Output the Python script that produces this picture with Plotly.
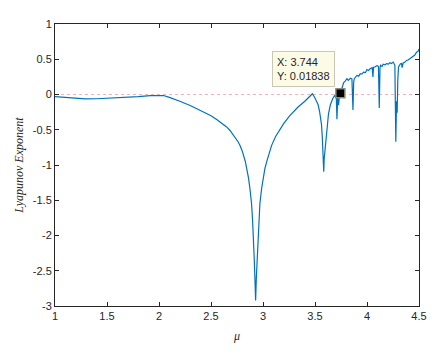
import plotly.graph_objects as go

mu = [1.00, 1.10, 1.20, 1.29, 1.40, 1.50, 1.60, 1.70, 1.80, 1.916, 2.00, 2.043, 2.10, 2.17,
      2.20, 2.30, 2.35, 2.427, 2.50, 2.555, 2.60, 2.65, 2.683, 2.72, 2.76, 2.778, 2.80,
      2.83, 2.843, 2.86, 2.874, 2.89, 2.900, 2.91, 2.916, 2.922, 2.929, 2.936, 2.944,
      2.95, 2.960, 2.97, 2.987, 3.00, 3.018, 3.04, 3.06, 3.082, 3.12, 3.162, 3.20, 3.258,
      3.30, 3.337, 3.40, 3.475, 3.50, 3.53, 3.545, 3.562, 3.57, 3.577, 3.58, 3.584, 3.588,
      3.597, 3.605, 3.616, 3.63, 3.648, 3.67, 3.69, 3.705, 3.711, 3.718, 3.727, 3.735,
      3.744, 3.755, 3.776, 3.79, 3.807, 3.82, 3.84, 3.855, 3.865, 3.872, 3.878, 3.903,
      3.92, 3.935, 3.95, 3.967, 3.985, 3.999, 4.015, 4.03, 4.05, 4.057, 4.063, 4.075,
      4.095, 4.11, 4.118, 4.125, 4.13, 4.145, 4.156, 4.17, 4.188, 4.205, 4.22, 4.235,
      4.252, 4.268, 4.277, 4.284, 4.29, 4.296, 4.303, 4.322, 4.332, 4.338, 4.348, 4.365,
      4.38, 4.395, 4.411, 4.425, 4.444, 4.46, 4.476, 4.49, 4.50]
lyap = [-0.03, -0.045, -0.057, -0.063, -0.06, -0.055, -0.05, -0.042, -0.03, -0.016, -0.01,
        -0.014, -0.04, -0.076, -0.095, -0.155, -0.19, -0.247, -0.30, -0.354, -0.40, -0.46,
        -0.51, -0.58, -0.67, -0.72, -0.80, -0.95, -1.04, -1.18, -1.33, -1.55, -1.79, -2.05,
        -2.34, -2.6, -2.92, -2.6, -2.34, -2.05, -1.79, -1.55, -1.33, -1.18, -1.05, -0.93,
        -0.82, -0.725, -0.6, -0.49, -0.41, -0.30, -0.235, -0.178, -0.10, 0.01, -0.05,
        -0.146, -0.25, -0.42, -0.6, -0.79, -0.92, -1.095, -0.92, -0.79, -0.6, -0.42, -0.27,
        -0.146, -0.06, -0.012, -0.05, -0.35, -0.05, -0.15, 0.0, 0.01838, 0.08, 0.17, 0.19,
        0.225, 0.2, 0.23, 0.22, -0.22, 0.18, 0.225, 0.27, 0.26, 0.295, 0.29, 0.317, 0.31,
        0.354, 0.34, 0.364, 0.38, 0.25, 0.386, 0.39, 0.41, 0.40, -0.19, 0.38, 0.414, 0.40,
        0.43, 0.42, 0.437, 0.43, 0.45, 0.44, 0.46, 0.414, -0.67, -0.095, -0.257, 0.2, 0.39,
        0.437, 0.44, 0.38, 0.447, 0.46, 0.483, 0.49, 0.507, 0.52, 0.553, 0.56, 0.6, 0.61,
        0.646]

tip_x = [3.744]
tip_y = [0.01838]

x_ticks = [1, 1.5, 2, 2.5, 3, 3.5, 4, 4.5]
x_labels = ["1", "1.5", "2", "2.5", "3", "3.5", "4", "4.5"]
y_ticks = [-3, -2.5, -2, -1.5, -1, -0.5, 0, 0.5, 1]
y_labels = ["-3", "-2.5", "-2", "-1.5", "-1", "-0.5", "0", "0.5", "1"]

axis_col = "#262626"

fig = go.Figure()
fig.add_trace(go.Scatter(x=[1, 4.5], y=[0, 0], mode="lines",
                         line=dict(color="#f4a0a0", width=0.8, dash="dot"),
                         hoverinfo="skip", showlegend=False))
fig.add_trace(go.Scatter(x=mu, y=lyap, mode="lines",
                         line=dict(color="#0072BD", width=1.2),
                         showlegend=False))
fig.add_trace(go.Scatter(x=tip_x, y=tip_y, mode="markers",
                         marker=dict(symbol="square", size=9, color="black",
                                     line=dict(color="#8c8c6e", width=1.5)),
                         showlegend=False))

fig.add_annotation(x=3.689, y=0.108, xref="x", yref="y", xanchor="right", yanchor="bottom",
                   text="X: 3.744<br>Y: 0.01838", showarrow=False, align="left",
                   font=dict(family="Liberation Sans, Arial", size=11, color=axis_col),
                   bgcolor="#fcfce6", bordercolor="#c8c8b4", borderwidth=1, borderpad=4)

# page body has an 8px default margin; size the figure so it fits without overflow
fig.update_layout(
    width=439, height=348,
    margin=dict(l=46, r=28, t=10, b=50),
    paper_bgcolor="white", plot_bgcolor="white",
    font=dict(family="Liberation Sans, Arial", size=11, color=axis_col),
)
fig.update_xaxes(range=[1, 4.5], tickvals=x_ticks, ticktext=x_labels,
                 showgrid=False, zeroline=False, showline=True, linecolor=axis_col,
                 linewidth=1, mirror="ticks", ticks="inside", ticklen=4, tickcolor=axis_col,
                 title=dict(text="<i>μ</i>", font=dict(family="Liberation Serif", size=12,
                                                      color=axis_col), standoff=10))
fig.update_yaxes(range=[-3, 1], tickvals=y_ticks, ticktext=y_labels,
                 showgrid=False, zeroline=False, showline=True, linecolor=axis_col,
                 linewidth=1, mirror="ticks", ticks="inside", ticklen=4, tickcolor=axis_col,
                 title=dict(text="<i>Lyapunov Exponent</i>",
                            font=dict(family="Liberation Serif", size=12, color=axis_col),
                            standoff=6))

fig.write_html("out.html")
